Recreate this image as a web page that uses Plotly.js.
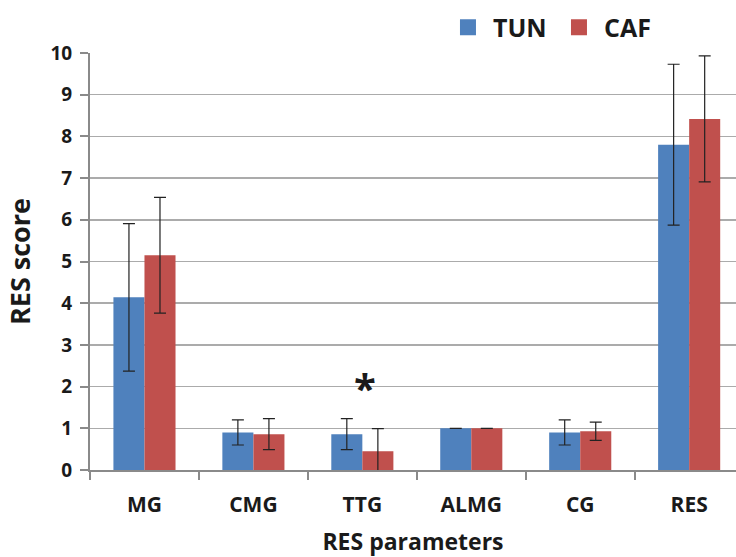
<!DOCTYPE html>
<html>
<head>
<meta charset="utf-8">
<script src="https://cdn.plot.ly/plotly-3.0.1.min.js"></script>
<style>html,body{margin:0;padding:0;background:#fff;}#chart{width:736px;height:557px;}</style>
</head>
<body>
<div id="chart"></div>
<script>
const categories = ['MG', 'CMG', 'TTG', 'ALMG', 'CG', 'RES'];
const tunValues = [4.14, 0.90, 0.86, 1.00, 0.90, 7.80];
const tunErrors = [1.77, 0.30, 0.37, 0.00, 0.30, 1.93];
const cafValues = [5.15, 0.86, 0.45, 1.00, 0.93, 8.42];
const cafErrors = [1.39, 0.37, 0.54, 0.00, 0.22, 1.51];
const yTicks = [0, 1, 2, 3, 4, 5, 6, 7, 8, 9, 10];
const significance = {category: 'TTG', y: 1.98, text: '*'};

const FONT = '"Open Sans", sans-serif';
const TXT = '#1a1a1a';
const BLUE = '#4F81BD';
const RED = '#C0504D';

const errStyle = {type: 'data', visible: true, color: '#222', thickness: 1.2, width: 6};

const traces = [
  {type: 'bar', name: 'TUN', x: categories, y: tunValues, marker: {color: BLUE},
   error_y: Object.assign({array: tunErrors}, errStyle), showlegend: false},
  {type: 'bar', name: 'CAF', x: categories, y: cafValues, marker: {color: RED},
   error_y: Object.assign({array: cafErrors}, errStyle), showlegend: false},
  {type: 'scatter', mode: 'markers', name: 'TUN', x: [null], y: [null],
   marker: {symbol: 'square', size: 16, color: BLUE}, showlegend: true, hoverinfo: 'skip'},
  {type: 'scatter', mode: 'markers', name: 'CAF', x: [null], y: [null],
   marker: {symbol: 'square', size: 16, color: RED}, showlegend: true, hoverinfo: 'skip'}
];

const layout = {
  width: 736, height: 557,
  margin: {l: 90, r: 0, t: 52.5, b: 87},
  paper_bgcolor: '#fff', plot_bgcolor: '#fff',
  barmode: 'group', bargap: 0.43, bargroupgap: 0,
  font: {family: FONT, color: TXT, size: 18, weight: 'bold'},
  showlegend: true,
  legend: {orientation: 'h', x: 0.5464, y: 1.061, xanchor: 'left', yanchor: 'middle',
           itemwidth: 40, entrywidth: 56, entrywidthmode: 'pixels',
           font: {family: FONT, size: 25, color: TXT, weight: 'bold'}, bgcolor: 'rgba(0,0,0,0)',
           traceorder: 'normal'},
  xaxis: {type: 'category', range: [-0.5, 5.43], showline: true, linecolor: '#8a8a8a', linewidth: 2,
          ticks: 'outside', tickson: 'boundaries', ticklen: 8, tickwidth: 2, tickcolor: '#8a8a8a',
          ticklabelstandoff: 15, showgrid: false, zeroline: false,
          tickfont: {family: FONT, size: 21, color: TXT, weight: 'bold'},
          title: {text: 'RES parameters', standoff: 19, font: {family: FONT, size: 23, color: TXT, weight: 'bold'}}},
  yaxis: {range: [0, 10], tickvals: yTicks, ticktext: yTicks.map(String), showline: true,
          linecolor: '#8a8a8a', linewidth: 2, ticks: 'outside', ticklen: 8, tickwidth: 2,
          tickcolor: '#8a8a8a', showgrid: true, gridcolor: '#ababab', gridwidth: 1.5, zeroline: false,
          ticklabelstandoff: 4,
          tickfont: {family: FONT, size: 19, color: TXT, weight: 'bold'},
          title: {text: 'RES score', standoff: 12, font: {family: FONT, size: 27, color: TXT, weight: 'bold'}}},
  annotations: [
    {x: significance.category, y: significance.y, xref: 'x', yref: 'y', text: significance.text,
     showarrow: false, xshift: 3, font: {family: FONT, size: 40, color: TXT}}
  ]
};

Plotly.newPlot('chart', traces, layout, {displayModeBar: false, staticPlot: true});
</script>
</body>
</html>
